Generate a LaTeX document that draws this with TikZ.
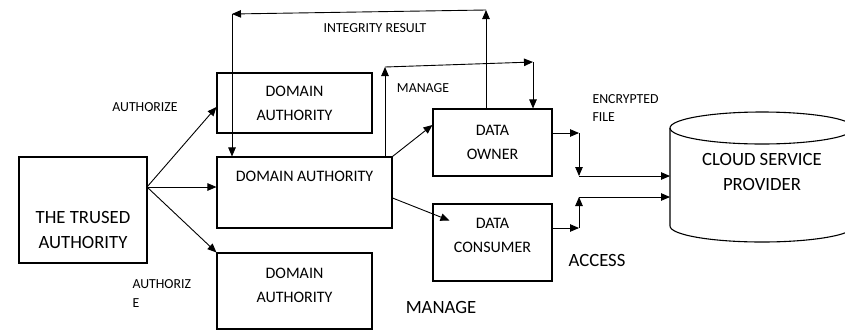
\documentclass[tikz,border=0pt]{standalone}
\usepackage{fontspec}
\setmainfont{Carlito}
\usetikzlibrary{shapes,arrows,arrows.meta,positioning,calc}

\begin{document}
\begin{tikzpicture}[x=1pt,y=-1pt,
    box/.style={draw, line width=1.1pt, align=center, inner sep=0pt},
    arr/.style={-{Triangle[length=9pt,width=7.5pt]}, line width=0.9pt},
    boxfont/.style={font=\fontsize{16}{24}\selectfont},
    bigfont/.style={font=\fontsize{18.7}{25.5}\selectfont},
    smallfont/.style={font=\fontsize{13.8}{18.5}\selectfont}]
    % size of the page
    \clip (0,0) rectangle (845,333);

    % Boxes
    \node[box, minimum width=128pt, minimum height=106pt,
        label={[bigfont, align=center, yshift=-20pt]center:THE TRUSED\\AUTHORITY}] (ta) at (83,210) {};
    \node[box, boxfont, minimum width=155pt, minimum height=60pt] (da1) at (294.5,103) {DOMAIN\\AUTHORITY};
    \node[box, minimum width=175pt, minimum height=71pt,
        label={[boxfont, yshift=16pt]center:DOMAIN AUTHORITY}] (da2) at (304.5,192.5) {};
    \node[box, minimum width=155pt, minimum height=76pt,
        label={[boxfont, align=center, yshift=6pt]center:DOMAIN\\AUTHORITY}] (da3) at (294.5,291) {};
    \node[box, boxfont, minimum width=119pt, minimum height=67pt] (do) at (492.5,142.5) {DATA\\OWNER};
    \node[box, minimum width=119pt, minimum height=77pt,
        label={[boxfont, align=center, yshift=7pt]center:DATA\\CONSUMER}] (dc) at (492.5,242.5) {};

    % Cloud storage drawn as a cylinder
    \draw[line width=1.1pt] (762,128) ellipse [x radius=92pt, y radius=16pt];
    \draw[line width=1.1pt] (670,128) -- (670,226) arc[start angle=180, end angle=360, x radius=92pt, y radius=16pt] -- (854,128);
    \node[bigfont, align=center] (csp) at (762,172) {CLOUD SERVICE\\PROVIDER};
    \coordinate (cspin1) at (670,176);
    \coordinate (cspin2) at (670,197);

    % Authorize fan
    \coordinate (fan) at (147,187);
    \draw[arr] (fan) -- ($(da1.west)+(0,4)$);
    \draw[arr] (fan) -- (fan -| da2.west);
    \draw[arr] (fan) -- (da3.north west);

    % Integrity result loop
    \coordinate (ir1) at (486,10);
    \coordinate (ir2) at (232,14);
    \draw[arr] (ir1 |- do.north) -- (ir1);
    \draw[arr] (ir1) -- (ir2);
    \draw[arr] (ir2) -- (ir2 |- da2.north);

    % Manage loop
    \coordinate (mg1) at (385,67);
    \coordinate (mg2) at (533,62);
    \draw[arr] (mg1 |- da2.north) -- (mg1);
    \draw[arr] (mg1) -- (mg2);
    \draw[arr] (mg2) -- (mg2 |- do.north);

    % Domain authority to owner and consumer
    \draw[arr] (da2.north east) -- ($(do.west)+(0,-17.5)$);
    \draw[arr] ($(da2.east)+(0,5.5)$) -- ($(dc.west)+(17,-22)$);

    % Encrypted file to the cloud
    \coordinate (ef1) at (579,133);
    \coordinate (ef2) at (579,176);
    \draw[arr] (ef1 -| do.east) -- (ef1);
    \draw[arr] (ef1) -- (ef2);
    \draw[arr] (ef2) -- (cspin1);

    % Access from the cloud
    \coordinate (ac1) at (579,228);
    \coordinate (ac2) at (579,197);
    \draw[arr] (ac1 -| dc.east) -- (ac1);
    \draw[arr] (ac1) -- (ac2);
    \draw[arr] (ac2) -- (cspin2);

    % Labels
    \node[smallfont] (lblauth) at (145,107) {AUTHORIZE};
    \node[smallfont, align=left, anchor=west] (lblauthb) at (129,293.5) {AUTHORIZ\\E};
    \node[smallfont] (lblir) at (375,28) {INTEGRITY RESULT};
    \node[smallfont] (lblmg) at (423,88) {MANAGE};
    \node[smallfont, align=left, anchor=west] (lblef) at (589,108) {ENCRYPTED\\FILE};
    \node[bigfont] (lblac) at (597,260) {ACCESS};
    \node[bigfont] (lblmgb) at (441,307) {MANAGE};
\end{tikzpicture}
\end{document}
